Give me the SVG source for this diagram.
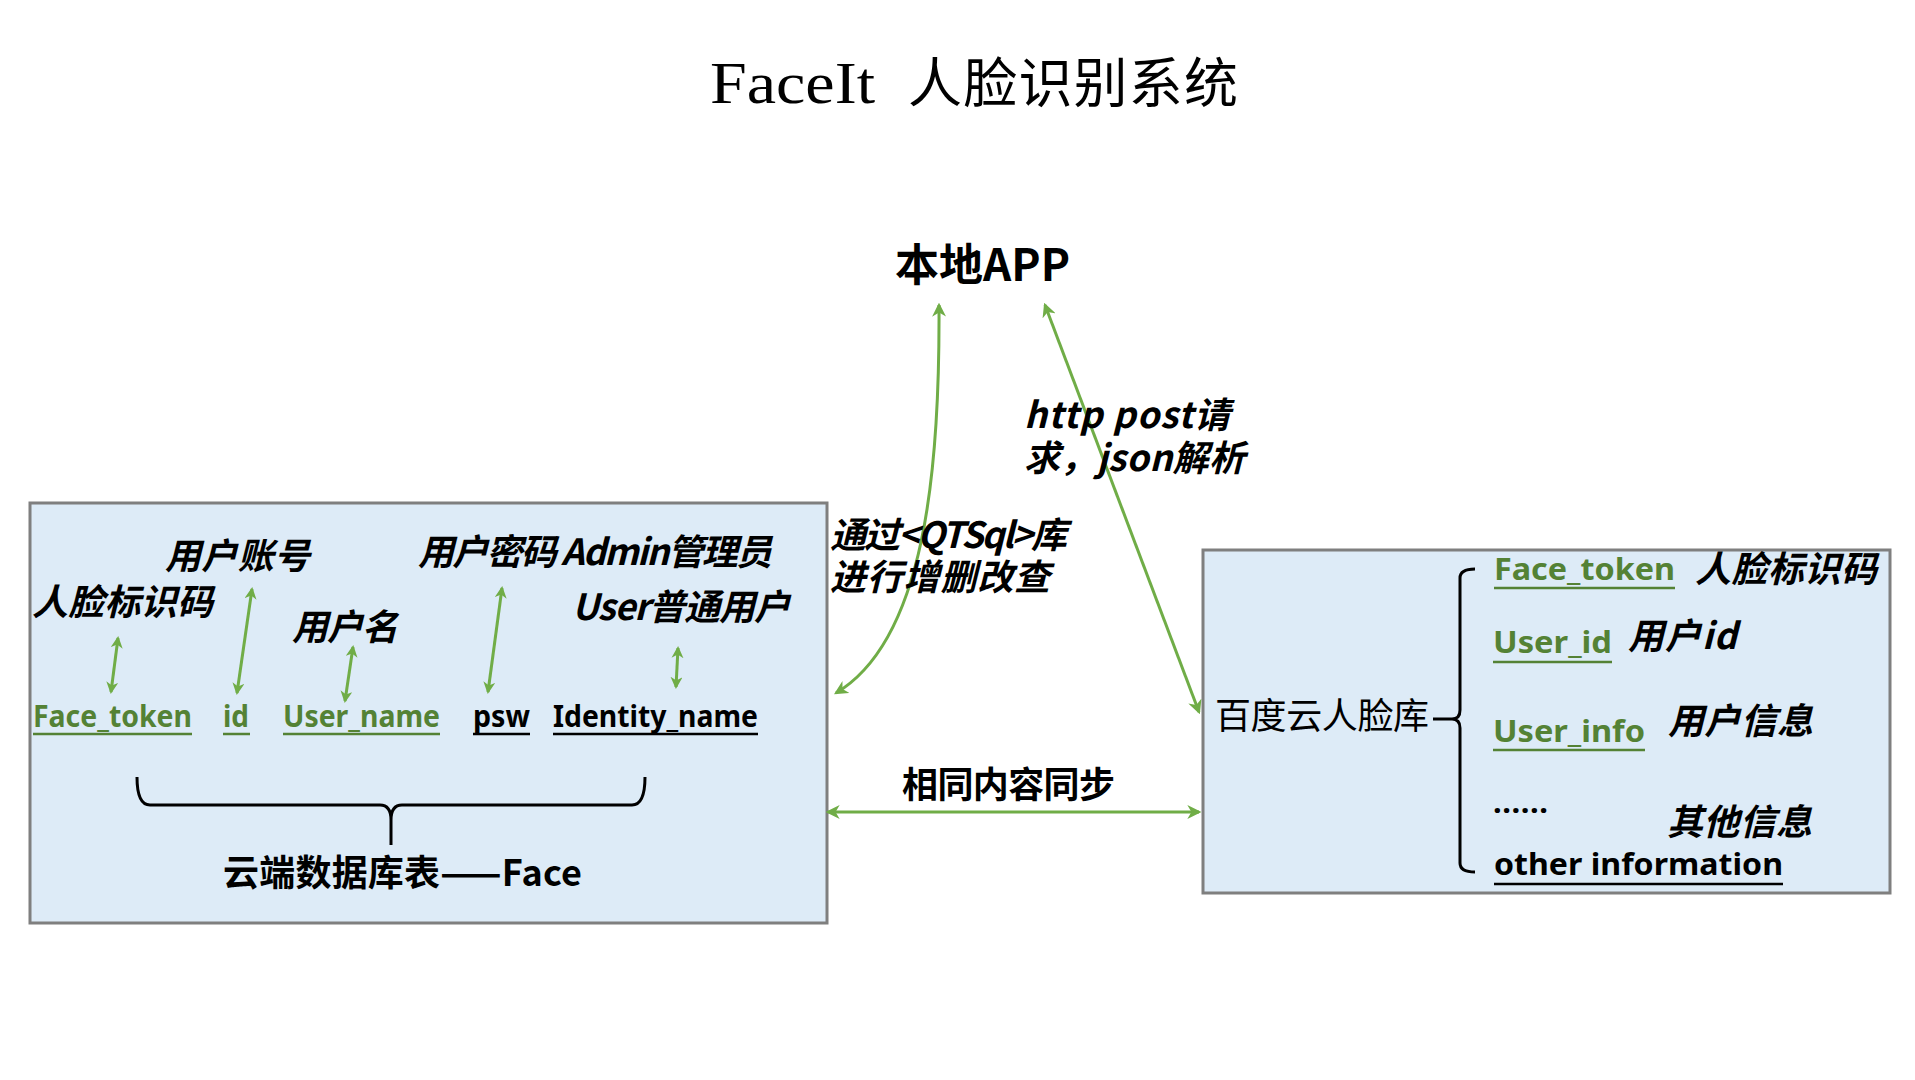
<svg xmlns="http://www.w3.org/2000/svg" width="1915" height="1080" viewBox="0 0 1915 1080">
  <defs>
    <marker id="ah" viewBox="0 0 12 12" refX="10" refY="6" markerWidth="14" markerHeight="14" markerUnits="userSpaceOnUse" orient="auto-start-reverse">
      <path d="M0,0 L12,6 L0,12 L3.5,6 z" fill="#70AD47"/>
    </marker>
    <marker id="ahs" viewBox="0 0 12 12" refX="10" refY="6" markerWidth="12" markerHeight="12" markerUnits="userSpaceOnUse" orient="auto-start-reverse">
      <path d="M0,0 L12,6 L0,12 L3.5,6 z" fill="#70AD47"/>
    </marker>
    <style>
      .box { fill: #DDEBF7; stroke: #7F7F7F; stroke-width: 3; }
      .conn { fill: none; stroke: #70AD47; stroke-width: 3; marker-start: url(#ah); marker-end: url(#ah); }
      .sconn { fill: none; stroke: #70AD47; stroke-width: 3; marker-start: url(#ahs); marker-end: url(#ahs); }
      .brace { fill: none; stroke: #000; stroke-width: 3; stroke-linejoin: round; }
      .lbl { font-family: "Noto Sans CJK SC", "Noto Sans", sans-serif; font-style: italic; font-weight: bold; font-size: 36px; fill: #000; }
      .fld { font-family: "Noto Sans", "Liberation Sans", sans-serif; font-weight: bold; font-size: 31px; }
      .g { fill: #548235; }
      .k { fill: #000; }
      .ul-g { stroke: #548235; stroke-width: 2.5; }
      .ul-k { stroke: #000; stroke-width: 2.5; }
      .cjk { font-family: "Noto Sans CJK SC", "Noto Sans", sans-serif; fill: #000; }
    </style>
  </defs>
  <rect width="1915" height="1080" fill="#FFFFFF"/>

  <g id="title">
    <text x="710" y="103" font-size="54" class="cjk"><tspan font-family="Liberation Serif, serif" font-size="60" textLength="165" lengthAdjust="spacingAndGlyphs">FaceIt</tspan><tspan x="908" textLength="330">人脸识别系统</tspan></text>
  </g>

  <g id="local-app">
    <text x="895" y="281" class="cjk" font-size="44" font-weight="bold" textLength="175">本地APP</text>
  </g>

  <g id="cloud-table">
    <rect class="box" x="30" y="503" width="797" height="420"/>
    <text class="lbl" x="32" y="615" textLength="181">人脸标识码</text>
    <text class="lbl" x="165" y="569" textLength="145">用户账号</text>
    <text class="lbl" x="292" y="640" textLength="106">用户名</text>
    <text class="lbl" x="418" y="565" textLength="354">用户密码 Admin管理员</text>
    <text class="lbl" x="572" y="620" textLength="218">User普通用户</text>

    <text class="fld g" x="33" y="727" textLength="159" lengthAdjust="spacingAndGlyphs">Face_token</text>
    <line class="ul-g" x1="33" y1="734" x2="192" y2="734"/>
    <text class="fld g" x="223" y="727" textLength="26" lengthAdjust="spacingAndGlyphs">id</text>
    <line class="ul-g" x1="223" y1="734" x2="250" y2="734"/>
    <text class="fld g" x="283" y="727" textLength="157" lengthAdjust="spacingAndGlyphs">User_name</text>
    <line class="ul-g" x1="283" y1="734" x2="440" y2="734"/>
    <text class="fld k" x="473" y="727" textLength="57" lengthAdjust="spacingAndGlyphs">psw</text>
    <line class="ul-k" x1="473" y1="734" x2="530" y2="734"/>
    <text class="fld k" x="553" y="727" textLength="205" lengthAdjust="spacingAndGlyphs">Identity_name</text>
    <line class="ul-k" x1="553" y1="734" x2="758" y2="734"/>

    <path class="brace" d="M137 777 Q137 805 150 805 L380 805 Q391 805 391 820 L391 845 M391 820 Q391 805 402 805 L632 805 Q645 805 645 777"/>
    <text class="cjk" x="223" y="886" font-size="36" font-weight="bold" textLength="359">云端数据库表——Face</text>
  </g>

  <g id="baidu-face-lib">
    <rect class="box" x="1203" y="550" width="687" height="343"/>
    <text class="cjk" x="1215" y="729" font-size="36" textLength="214">百度云人脸库</text>
    <path class="brace" d="M1433 719 L1452 719 M1475 569 Q1460 569 1460 578 L1460 710 Q1460 719 1452 719 Q1460 719 1460 728 L1460 863 Q1460 872 1475 872"/>

    <text class="fld g" x="1494" y="580" textLength="181" lengthAdjust="spacingAndGlyphs">Face_token</text>
    <line class="ul-g" x1="1494" y1="588" x2="1675" y2="588"/>
    <text class="lbl" x="1695" y="582" textLength="182">人脸标识码</text>

    <text class="fld g" x="1493" y="653" textLength="119" lengthAdjust="spacingAndGlyphs">User_id</text>
    <line class="ul-g" x1="1493" y1="662" x2="1612" y2="662"/>
    <text class="lbl" x="1628" y="649" textLength="109">用户id</text>

    <text class="fld g" x="1493" y="742" textLength="152" lengthAdjust="spacingAndGlyphs">User_info</text>
    <line class="ul-g" x1="1493" y1="750" x2="1645" y2="750"/>
    <text class="lbl" x="1668" y="734" textLength="145">用户信息</text>

    <text class="fld k" x="1493" y="813" textLength="55">......</text>
    <text class="lbl" x="1667" y="835" textLength="145">其他信息</text>

    <text class="fld k" x="1494" y="875" textLength="289" lengthAdjust="spacingAndGlyphs">other information</text>
    <line class="ul-k" x1="1494" y1="884" x2="1783" y2="884"/>
  </g>

  <g id="connectors">
    <path class="conn" d="M939 305 C940 470 925 640 836 693"/>
    <path class="conn" d="M1045 305 L1199 712"/>
    <path class="conn" d="M828 812 L1199 812"/>

    <path class="sconn" d="M118 638 L111 692"/>
    <path class="sconn" d="M252 589 L237 693"/>
    <path class="sconn" d="M353 647 L345 701"/>
    <path class="sconn" d="M502 588 L488 692"/>
    <path class="sconn" d="M678 648 L676 687"/>
  </g>

  <g id="connector-labels">
    <text class="lbl"><tspan x="830" y="548" textLength="237">通过&lt;QTSql&gt;库</tspan><tspan x="830" y="590" textLength="220">进行增删改查</tspan></text>
    <text class="lbl"><tspan x="1024" y="428" textLength="206">http post请</tspan><tspan x="1024" y="471" textLength="221">求，json解析</tspan></text>
    <text class="cjk" x="902" y="798" font-size="36" font-weight="bold" textLength="213">相同内容同步</text>
  </g>
</svg>
